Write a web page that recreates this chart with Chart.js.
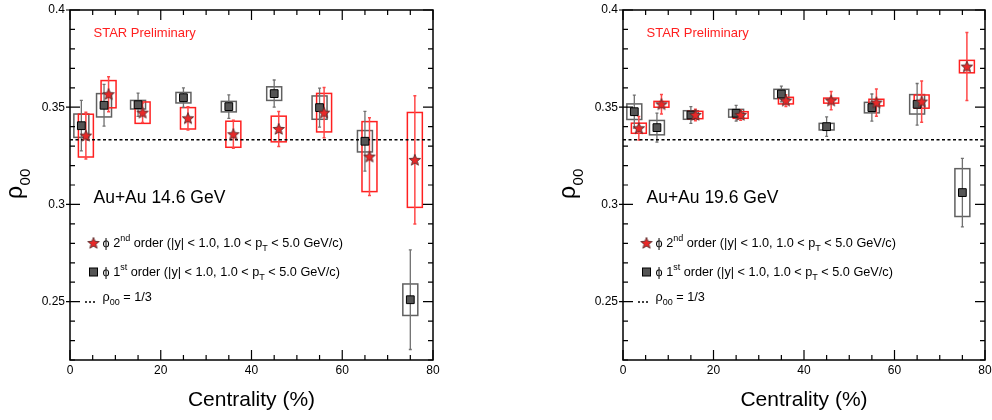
<!DOCTYPE html>
<html><head><meta charset="utf-8">
<script src="https://cdn.jsdelivr.net/npm/chart.js@4/dist/chart.umd.min.js"></script>
<style>
html,body{margin:0;padding:0;background:#fff;}
#wrap{position:relative;width:992px;height:420px;overflow:hidden;}
canvas{position:absolute;left:0;top:0;}
</style></head><body>
<div id="wrap"><canvas id="c1" width="992" height="420"></canvas><canvas id="c2" width="992" height="420"></canvas></div>
<script>
// ---- data ----
const centFirst  = [2.5, 7.5, 15, 25, 35, 45, 55, 65, 75];
const centSecond = [3.5, 8.5, 16, 26, 36, 46, 56, 66, 76];

const first146     = [0.3405, 0.3510, 0.3513, 0.3549, 0.3503, 0.3570, 0.3498, 0.3325, 0.2510];
const first146Stat = [0.013, 0.0107, 0.006, 0.005, 0.006, 0.007, 0.010, 0.0154, 0.0256];
const first146Sys  = [0.006, 0.006, 0.0022, 0.0027, 0.0027, 0.0035, 0.006, 0.0055, 0.0081];
const second146     = [0.3354, 0.3567, 0.3472, 0.3443, 0.3361, 0.3388, 0.3472, 0.3246, 0.3229];
const second146Stat = [0.012, 0.009, 0.005, 0.006, 0.0072, 0.009, 0.0129, 0.020, 0.033];
const second146Sys  = [0.011, 0.007, 0.0055, 0.0055, 0.0067, 0.0066, 0.0099, 0.018, 0.0244];

const first196     = [0.3477, 0.3395, 0.3460, 0.3469, 0.3568, 0.3400, 0.3498, 0.3515, 0.3061];
const first196Stat = [0.0085, 0.0075, 0.0043, 0.004, 0.004, 0.005, 0.007, 0.0107, 0.0176];
const first196Sys  = [0.004, 0.0037, 0.0022, 0.002, 0.0024, 0.0017, 0.0027, 0.005, 0.0123];
const second196     = [0.3392, 0.3515, 0.3460, 0.3460, 0.3534, 0.3534, 0.3524, 0.3529, 0.3709];
const second196Stat = [0.006, 0.005, 0.003, 0.0027, 0.003, 0.0047, 0.007, 0.0106, 0.0175];
const second196Sys  = [0.0026, 0.0015, 0.0019, 0.0017, 0.0017, 0.0013, 0.0017, 0.0034, 0.0032];

const refValue = 1/3;
const xTickValues = [0, 20, 40, 60, 80];
const yTickValues = [0.25, 0.3, 0.35, 0.4];
const panelLabels = ['Au+Au 14.6 GeV', 'Au+Au 19.6 GeV'];
const prelimLabel = 'STAR Preliminary';
const xTitle = 'Centrality (%)';

// ---- styles ----
const FONT = '"Liberation Sans", Arial, Helvetica, sans-serif';
const BOX_HALF = 1.65;
const RED = '#ff2020';

function makeStar() {
  const c = document.createElement('canvas');
  c.width = 14; c.height = 14;
  const g = c.getContext('2d');
  g.beginPath();
  for (let k = 0; k < 10; k++) {
    const r = k % 2 === 0 ? 6 : 2.6;
    const a = -Math.PI / 2 + k * Math.PI / 5;
    const px = 7 + r * Math.cos(a), py = 7.4 + r * Math.sin(a);
    k === 0 ? g.moveTo(px, py) : g.lineTo(px, py);
  }
  g.closePath();
  g.fillStyle = '#e82828';
  g.fill();
  g.lineWidth = 0.9;
  g.strokeStyle = '#5a2a2a';
  g.stroke();
  return c;
}
const starImg = makeStar();

function richText(ctx, x, y, segs, size) {
  let cx = x;
  for (const s of segs) {
    const small = s.sup || s.sub;
    const fs = small ? Math.round(size * 0.7) : size;
    ctx.font = fs + 'px ' + FONT;
    const dy = s.sup ? -size * 0.36 : (s.sub ? size * 0.42 : 0);
    ctx.fillText(s.t, cx, y + dy);
    cx += ctx.measureText(s.t).width;
  }
  return cx;
}

const panelPlugin = {
  id: 'panel',
  beforeDatasetsDraw(chart) {
    const {ctx, scales: {x, y}} = chart;
    ctx.save();
    const sets = chart.data.datasets.filter(d => d.stat).slice().reverse();
    // systematic boxes
    sets.forEach(ds => {
      ctx.strokeStyle = ds.boxColor; ctx.lineWidth = 1.5;
      ds.data.forEach((p, i) => {
        const x0 = x.getPixelForValue(p.x - BOX_HALF), x1 = x.getPixelForValue(p.x + BOX_HALF);
        const yt = y.getPixelForValue(p.y + ds.sys[i]), yb = y.getPixelForValue(p.y - ds.sys[i]);
        ctx.strokeRect(x0, yt, x1 - x0, yb - yt);
      });
    });
    // statistical error bars
    sets.forEach(ds => {
      ctx.strokeStyle = ds.errColor; ctx.lineWidth = ds.errWidth;
      ds.data.forEach((p, i) => {
        const px = x.getPixelForValue(p.x);
        const yt = y.getPixelForValue(p.y + ds.stat[i]), yb = y.getPixelForValue(p.y - ds.stat[i]);
        ctx.beginPath();
        ctx.moveTo(px, yt); ctx.lineTo(px, yb);
        ctx.moveTo(px - 1.5, yt); ctx.lineTo(px + 1.5, yt);
        ctx.moveTo(px - 1.5, yb); ctx.lineTo(px + 1.5, yb);
        ctx.stroke();
      });
    });
    ctx.restore();
  },
  afterDraw(chart, args, opts) {
    const {ctx, chartArea: a, scales: {x, y}} = chart;
    ctx.save();
    // frame
    ctx.strokeStyle = '#000'; ctx.lineWidth = 1.5;
    ctx.strokeRect(a.left, a.top, a.right - a.left, a.bottom - a.top);
    ctx.lineWidth = 1.2;
    ctx.beginPath();
    for (let k = 0; k <= 16; k++) {
      const v = k * 5, px = x.getPixelForValue(v);
      const len = (k % 4 === 0) ? 10 : 5;
      ctx.moveTo(px, a.bottom); ctx.lineTo(px, a.bottom - len);
      ctx.moveTo(px, a.top); ctx.lineTo(px, a.top + len);
    }
    for (let k = 22; k <= 40; k++) {
      const py = y.getPixelForValue(k / 100);
      const major = k % 5 === 0;
      const len = major ? 10 : 5;
      ctx.moveTo(a.left - (major ? 4 : 0), py); ctx.lineTo(a.left + len, py);
      ctx.moveTo(a.right, py); ctx.lineTo(a.right - len, py);
    }
    ctx.stroke();

    const L = a.left;
    ctx.textBaseline = 'middle'; ctx.textAlign = 'left';
    // STAR Preliminary
    ctx.fillStyle = RED;
    ctx.font = '13px ' + FONT;
    ctx.fillText(prelimLabel, L + 23.5, 33.5);
    // energy label
    ctx.fillStyle = '#000';
    ctx.font = '17.5px ' + FONT;
    ctx.fillText(opts.label, L + 23.5, 198.5);
    // legend
    const tx = L + 32.5, fs = 12.7;
    ctx.drawImage(starImg, L + 23.5 - 7, 243 - 7);
    richText(ctx, tx, 243, [{t: 'ϕ 2'}, {t: 'nd', sup: true}, {t: ' order (|y| < 1.0, 1.0 < p'}, {t: 'T', sub: true}, {t: ' < 5.0 GeV/c)'}], fs);
    ctx.fillStyle = '#555'; ctx.strokeStyle = '#000'; ctx.lineWidth = 1;
    ctx.fillRect(L + 19.5, 268, 8, 8); ctx.strokeRect(L + 19.5, 268, 8, 8);
    ctx.fillStyle = '#000';
    richText(ctx, tx, 272, [{t: 'ϕ 1'}, {t: 'st', sup: true}, {t: ' order (|y| < 1.0, 1.0 < p'}, {t: 'T', sub: true}, {t: ' < 5.0 GeV/c)'}], fs);
    ctx.setLineDash([2, 2]); ctx.lineWidth = 1.5;
    ctx.beginPath(); ctx.moveTo(L + 15, 302); ctx.lineTo(L + 26, 302); ctx.stroke();
    ctx.setLineDash([]);
    richText(ctx, tx, 297.5, [{t: 'ρ'}, {t: '00', sub: true}, {t: ' = 1/3'}], fs);
    // y title rho_00
    ctx.save();
    ctx.translate(L - 48, 199);
    ctx.rotate(-Math.PI / 2);
    ctx.textBaseline = 'alphabetic';
    ctx.font = '23px ' + FONT;
    ctx.fillText('ρ', 0, 0);
    const w = ctx.measureText('ρ').width;
    ctx.font = '15px ' + FONT;
    ctx.fillText('00', w + 0.5, 8);
    ctx.restore();
    ctx.restore();
  }
};

function makeChart(id, label, f, fStat, fSys, s, sStat, sSys, pad) {
  return new Chart(document.getElementById(id), {
    type: 'scatter',
    data: {
      datasets: [
        {
          label: 'ϕ 2nd order', data: centSecond.map((c, i) => ({x: c, y: s[i]})),
          stat: sStat, sys: sSys, errColor: '#ff4848', errWidth: 1.5, boxColor: RED,
          pointStyle: starImg, pointRadius: 6, order: 0
        },
        {
          label: 'ϕ 1st order', data: centFirst.map((c, i) => ({x: c, y: f[i]})),
          stat: fStat, sys: fSys, errColor: '#707070', errWidth: 1.3, boxColor: '#606060',
          pointStyle: 'rect', pointRadius: 5.5, backgroundColor: '#555', borderColor: '#000', borderWidth: 1, order: 1
        },
        {
          label: 'ρ00 = 1/3', data: [{x: 0, y: refValue}, {x: 80, y: refValue}], showLine: true,
          borderColor: '#000', borderWidth: 1.5, borderDash: [3, 2.5], pointRadius: 0, order: 2
        }
      ]
    },
    options: {
      responsive: false, animation: false, devicePixelRatio: 1,
      layout: {padding: pad},
      plugins: {legend: {display: false}, tooltip: {enabled: false}, panel: {label}},
      scales: {
        x: {
          type: 'linear', min: 0, max: 80,
          afterBuildTicks: sc => { sc.ticks = xTickValues.map(v => ({value: v})); },
          afterFit: sc => { sc.height = 60; sc.paddingLeft = 0; sc.paddingRight = 0; },
          grid: {display: true, drawOnChartArea: false, drawTicks: false, color: 'rgba(0,0,0,0)'},
          border: {display: false},
          ticks: {padding: 3, maxRotation: 0, autoSkip: false, color: '#000', font: {family: FONT, size: 12}},
          title: {display: true, text: xTitle, color: '#000', font: {family: FONT, size: 21}, padding: {top: 0, bottom: 7}}
        },
        y: {
          type: 'linear', min: 0.22, max: 0.4,
          afterBuildTicks: sc => { sc.ticks = yTickValues.map(v => ({value: v})); },
          afterFit: sc => { sc.width = 70; sc.paddingTop = 0; sc.paddingBottom = 0; },
          grid: {display: true, drawOnChartArea: false, drawTicks: false, color: 'rgba(0,0,0,0)'},
          border: {display: false},
          ticks: {padding: 5, color: '#000', font: {family: FONT, size: 12}, callback: v => String(Number(v.toFixed(2)))}
        }
      }
    },
    plugins: [panelPlugin]
  });
}

makeChart('c1', panelLabels[0], first146, first146Stat, first146Sys, second146, second146Stat, second146Sys,
  {left: 0, right: 559, top: 10, bottom: 0});
makeChart('c2', panelLabels[1], first196, first196Stat, first196Sys, second196, second196Stat, second196Sys,
  {left: 553, right: 5, top: 10, bottom: 0});
</script>
</body></html>
